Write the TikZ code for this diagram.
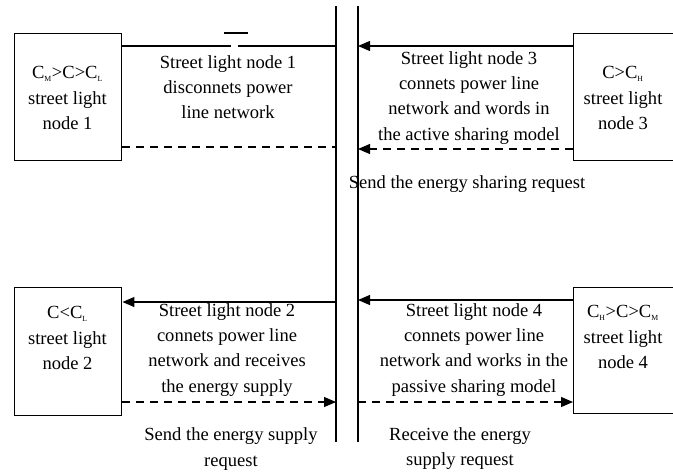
\documentclass[tikz,border=0pt]{standalone}
\usepackage{fontspec}
\setmainfont{Liberation Serif}
\usetikzlibrary{arrows.meta}
\newcommand{\sbs}[1]{\textsubscript{\scalebox{0.6}{#1}}}
\begin{document}
\begin{tikzpicture}[x=0.75pt,y=-0.75pt,
  lbl/.style={align=center,font=\fontsize{13.9}{18.8}\selectfont,inner sep=0pt},
  box/.style={draw,line width=1.1pt},
  sline/.style={line width=0.9pt},
  dline/.style={line width=0.9pt,dash pattern=on 6pt off 4.5pt},
  arr/.style={-{Triangle[length=9pt,width=7.5pt]}},
  bus/.style={line width=1.3pt}]
\useasboundingbox (0,0) rectangle (673,472);
% boxes
\node[box,minimum width=107*0.75pt,minimum height=127*0.75pt,anchor=north west] (b1) at (14,32.5) {};
\node[box,minimum width=107*0.75pt,minimum height=128*0.75pt,anchor=north west] (b2) at (14,287) {};
\node[box,minimum width=104*0.75pt,minimum height=127*0.75pt,anchor=north west] (b3) at (573,33) {};
\node[box,minimum width=104*0.75pt,minimum height=126*0.75pt,anchor=north west] (b4) at (573,287) {};
\node[lbl] (t1) at (67.5,98) {C\sbs{M}>C>C\sbs{L}\\street light\\node 1};
\node[lbl] (t2) at (67.5,338) {C<C\sbs{L}\\street light\\node 2};
\node[lbl] (t3) at (623,98) {C>C\sbs{H}\\street light\\node 3};
\node[lbl] (t4) at (623,337) {C\sbs{H}>C>C\sbs{M}\\street light\\node 4};
% bus lines
\coordinate (L1) at (336,6); \coordinate (L2) at (336,442);
\coordinate (R1) at (358,6); \coordinate (R2) at (358,442);
\draw[bus] (L1) -- (L2);
\draw[bus] (R1) -- (R2);
% node 1 lines with switch
\coordinate (s1) at (231,46); \coordinate (s2) at (238,46);
\coordinate (sw1) at (224,33); \coordinate (sw2) at (248,33);
\draw[sline] (b1.east |- s1) -- (s1);
\draw[sline] (s2) -- (L1 |- s2);
\draw[sline] (sw1) -- (sw2);
\draw[dline] (b1.east |- 0,147) -- (L1 |- 0,147);
% node 3
\draw[sline,arr] (b3.west |- 0,46) -- (R1 |- 0,46);
\draw[dline,arr] (b3.west |- 0,149) -- (R1 |- 0,149);
% node 2
\draw[sline,arr] (L1 |- 0,302) -- (b2.east |- 0,302);
\draw[dline,arr] (b2.east |- 0,402) -- (L1 |- 0,402);
% node 4
\draw[sline,arr] (b4.west |- 0,300) -- (R1 |- 0,300);
\draw[dline,arr] (R1 |- 0,402) -- (b4.west |- 0,402);
% labels
\node[lbl] (m1) at (228,87) {Street light node 1\\disconnets power\\line network};
\node[lbl] (m3) at (469,98) {Street light node 3\\connets power line\\network and words in\\the active sharing model};
\node[lbl] (m2) at (227,350) {Street light node 2\\connets power line\\network and receives\\the energy supply};
\node[lbl] (m4) at (474,350) {Street light node 4\\connets power line\\network and works in the\\passive sharing model};
\node[lbl] (q1) at (467,184) {Send the energy sharing request};
\node[lbl] (q2) at (231,449) {Send the energy supply\\request};
\node[lbl] (q4) at (460,449) {Receive the energy\\supply request};
\end{tikzpicture}
\end{document}
